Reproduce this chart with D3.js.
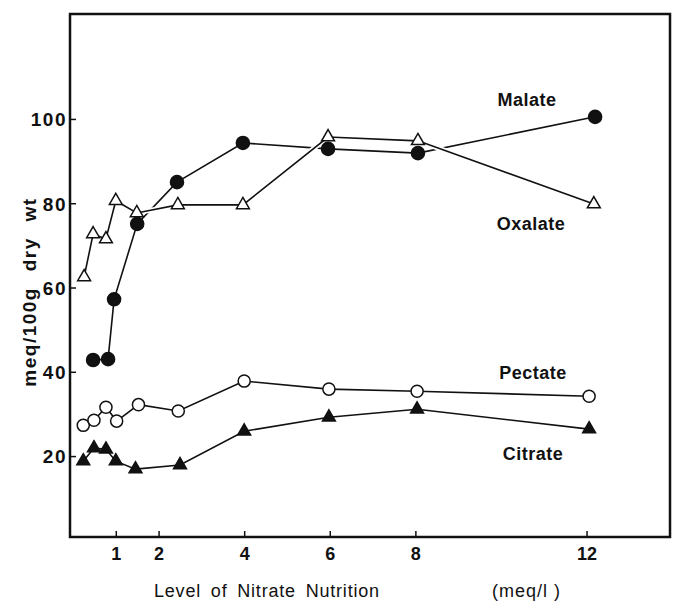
<!DOCTYPE html>
<html>
<head>
<meta charset="utf-8">
<script src="https://cdn.jsdelivr.net/npm/d3@7"></script>
<style>
  body { margin: 0; background: #fff; }
  text { font-family: "Liberation Sans", Arial, sans-serif; fill: #111; }
</style>
</head>
<body>
<div id="chart-container"></div>
<script>
// values (x = nitrate level, meq/l)
const malateX   = [0.47, 0.82, 0.96, 1.5, 2.43, 3.97, 5.96, 8.06, 12.2];
const malateY   = [42.8, 43.0, 57.2, 75.1, 85.0, 94.3, 92.9, 91.9, 100.5];
const oxalateX  = [0.26, 0.47, 0.77, 1.0, 1.49, 2.45, 3.97, 5.96, 8.06, 12.17];
const oxalateY  = [62.5, 72.7, 71.5, 80.6, 77.7, 79.6, 79.6, 95.7, 94.8, 79.8];
const pectateX  = [0.24, 0.49, 0.77, 1.02, 1.53, 2.46, 4.0, 5.98, 8.04, 12.06];
const pectateY  = [27.3, 28.5, 31.6, 28.3, 32.2, 30.7, 37.8, 35.9, 35.4, 34.2];
const citrateX  = [0.24, 0.49, 0.77, 1.0, 1.46, 2.5, 4.0, 5.98, 8.04, 12.06];
const citrateY  = [18.8, 21.9, 21.6, 18.8, 16.9, 17.9, 25.9, 29.2, 31.1, 26.4];

const xTicks = [1, 2, 4, 6, 8, 12];
const yTicks = [20, 40, 60, 80, 100];

const W = 673, H = 602;
const frame = {left: 70, right: 670, top: 14, bottom: 537};

const svg = d3.select("#chart-container")
    .append("svg")
    .attr("width", W)
    .attr("height", H);

const x = d3.scaleLinear().domain([-0.07, 13.95]).range([frame.left, frame.right]);
const y = d3.scaleLinear().domain([0.8, 124.9]).range([frame.bottom, frame.top]);

// frame
svg.append("rect")
    .attr("x", frame.left).attr("y", frame.top)
    .attr("width", frame.right - frame.left).attr("height", frame.bottom - frame.top)
    .attr("fill", "none").attr("stroke", "#111").attr("stroke-width", 2.5);

// axes with inward ticks
const xAxis = svg.append("g")
    .attr("transform", `translate(0, ${frame.bottom})`)
    .call(d3.axisTop(x).tickValues(xTicks).tickSize(6).tickFormat(d3.format("d")));
xAxis.select(".domain").remove();
xAxis.selectAll("line").attr("stroke", "#111").attr("stroke-width", 1.5);
xAxis.selectAll("text")
    .attr("y", 23).attr("dy", 0)
    .style("font-size", "18px").style("font-weight", "bold");

const yAxis = svg.append("g")
    .attr("transform", `translate(${frame.left}, 0)`)
    .call(d3.axisRight(y).tickValues(yTicks).tickSize(6));
yAxis.select(".domain").remove();
yAxis.selectAll("line").attr("stroke", "#111").attr("stroke-width", 1.5);
yAxis.selectAll("text")
    .attr("x", -3).attr("dy", "0.36em")
    .attr("text-anchor", "end")
    .style("font-size", "19px").style("font-weight", "bold")
    .style("letter-spacing", "1.5px");

// axis titles
svg.append("text")
    .attr("x", 154).attr("y", 597)
    .style("font-size", "18px").style("letter-spacing", "0.8px")
    .style("word-spacing", "4px")
    .text("Level of Nitrate Nutrition");
svg.append("text")
    .attr("x", 492).attr("y", 597)
    .style("font-size", "18px").style("letter-spacing", "1px")
    .text("(meq/l )");

svg.append("text")
    .attr("transform", `translate(36, 292) rotate(-90)`)
    .attr("text-anchor", "middle")
    .style("font-size", "19px").style("font-weight", "bold")
    .style("letter-spacing", "1.5px")
    .style("word-spacing", "9px")
    .text("meq/100g dry wt");

const series = [
    {name: "Malate",  xs: malateX,  ys: malateY,  marker: "circle",   fill: "#111"},
    {name: "Oxalate", xs: oxalateX, ys: oxalateY, marker: "triangle", fill: "#fff"},
    {name: "Pectate", xs: pectateX, ys: pectateY, marker: "circle",   fill: "#fff"},
    {name: "Citrate", xs: citrateX, ys: citrateY, marker: "triangle", fill: "#111"}
];

const line = d3.line().x(d => x(d[0])).y(d => y(d[1]));

series.forEach(s => {
    const pts = s.xs.map((v, i) => [v, s.ys[i]]);
    const g = svg.append("g");
    g.append("path")
        .attr("d", line(pts))
        .attr("fill", "none").attr("stroke", "#fff").attr("stroke-width", 5);
    g.append("path")
        .attr("d", line(pts))
        .attr("fill", "none").attr("stroke", "#111").attr("stroke-width", 1.6);
    s.pts = pts;
});

series.forEach(s => {
    const sym = s.marker === "circle" ? d3.symbolCircle : d3.symbolTriangle;
    const size = s.marker === "circle" ? (s.fill === "#111" ? 135 : 115) : 72;
    svg.append("g").selectAll("path")
        .data(s.pts)
        .join("path")
        .attr("transform", d => `translate(${x(d[0])}, ${y(d[1])})`)
        .attr("d", d3.symbol().type(sym).size(size))
        .attr("fill", s.fill)
        .attr("stroke", "#111").attr("stroke-width", 1.5);
});

// series labels
const labels = [
    {name: "Malate",  x: 527, y: 106},
    {name: "Oxalate", x: 531, y: 230},
    {name: "Pectate", x: 533, y: 379},
    {name: "Citrate", x: 533, y: 460}
];
svg.append("g").selectAll("text")
    .data(labels)
    .join("text")
    .attr("x", d => d.x).attr("y", d => d.y)
    .attr("text-anchor", "middle")
    .style("font-size", "18px").style("font-weight", "bold")
    .style("letter-spacing", "0.5px")
    .text(d => d.name);
</script>
</body>
</html>
